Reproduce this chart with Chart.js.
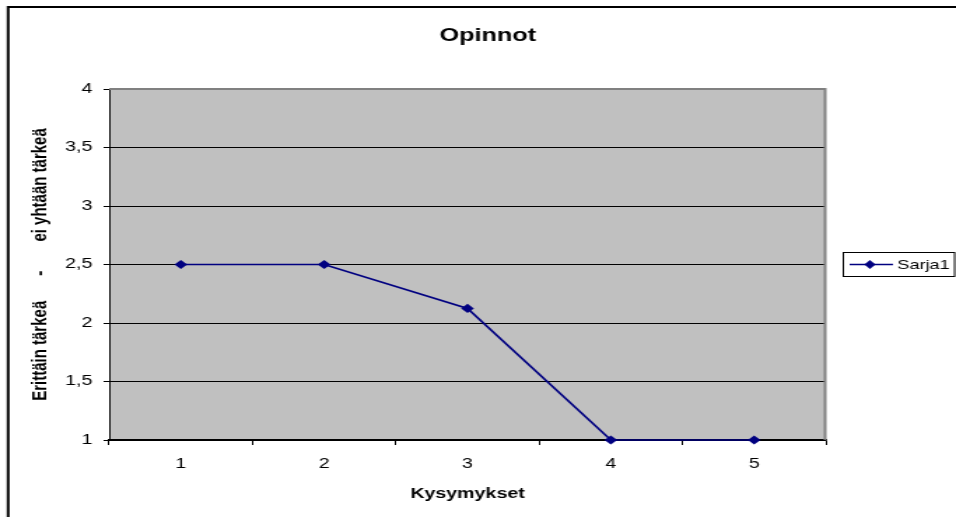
<!DOCTYPE html>
<html>
<head>
<meta charset="utf-8">
<script src="https://cdn.jsdelivr.net/npm/chart.js@4.4.1/dist/chart.umd.min.js"></script>
<style>
  html, body { margin: 0; padding: 0; background: #fff; overflow: hidden; }
  /* the reference is stretched sideways, so draw narrow and scale it out */
  #wrap { width: 683px; height: 517px; transform: scaleX(1.39971); transform-origin: 0 0; }
</style>
</head>
<body>
<div id="wrap"><canvas id="myChart" width="683" height="517"></canvas></div>
<script>
const kysymykset = ['1', '2', '3', '4', '5'];
const sarja1 = [2.5, 2.5, 2.125, 1, 1];
const yTicks = [1, 1.5, 2, 2.5, 3, 3.5, 4];

const fontFam = '"Liberation Sans", Arial, sans-serif';
const ctx = document.getElementById('myChart');

// frame, plot background, gray border, title and boxed legend
const excelLook = {
    id: 'excelLook',
    beforeDraw(chart) {
        const c = chart.ctx;
        const a = chart.chartArea;
        c.save();
        c.fillStyle = '#c0c0c0';
        c.fillRect(a.left, a.top, a.right - a.left, a.bottom - a.top);
        c.strokeStyle = '#000';
        c.lineWidth = 2;
        c.beginPath();
        c.moveTo(5.8, 530);
        c.lineTo(5.8, 7);
        c.lineTo(700, 7);
        c.stroke();
        c.restore();
    },
    beforeDatasetsDraw(chart) {
        const c = chart.ctx;
        const a = chart.chartArea;
        c.save();
        c.strokeStyle = '#808080';
        c.lineWidth = 2;
        c.beginPath();
        c.moveTo(a.left, a.top);
        c.lineTo(a.right - 0.5, a.top);
        c.lineTo(a.right - 0.5, a.bottom);
        c.stroke();
        c.restore();
    },
    afterDraw(chart) {
        const c = chart.ctx;
        const ds = chart.data.datasets[0];
        c.save();
        c.fillStyle = '#000';
        c.font = 'bold 18px ' + fontFam;
        c.textAlign = 'center';
        c.textBaseline = 'alphabetic';
        c.fillText('Opinnot', 348.6, 41);

        // legend box
        c.strokeStyle = '#000';
        c.lineWidth = 1;
        c.strokeRect(602.5, 252.5, 79.5, 24);
        c.strokeStyle = ds.borderColor;
        c.lineWidth = 1.5;
        c.beginPath();
        c.moveTo(607, 264.5);
        c.lineTo(638, 264.5);
        c.stroke();
        c.fillStyle = ds.borderColor;
        c.beginPath();
        c.moveTo(621.5, 260);
        c.lineTo(625.5, 264.5);
        c.lineTo(621.5, 269);
        c.lineTo(617.5, 264.5);
        c.closePath();
        c.fill();
        c.fillStyle = '#000';
        c.font = '13px ' + fontFam;
        c.textAlign = 'left';
        c.textBaseline = 'middle';
        c.fillText(ds.label, 641, 265);
        c.restore();
    }
};

const sp = (n) => '\u00A0'.repeat(n);

const myChart = new Chart(ctx, {
    type: 'line',
    data: {
        labels: kysymykset,
        datasets: [{
            label: 'Sarja1',
            data: sarja1,
            borderColor: '#000080',
            backgroundColor: '#000080',
            borderWidth: 1.7,
            pointStyle: 'rectRot',
            pointRadius: 4.6,
            pointBorderWidth: 0,
            tension: 0,
            clip: false
        }]
    },
    options: {
        responsive: false,
        animation: false,
        layout: {
            padding: { top: 89, right: 93, left: 0, bottom: 0 }
        },
        plugins: {
            legend: { display: false },
            title: { display: false },
            tooltip: { enabled: false }
        },
        scales: {
            x: {
                offset: true,
                afterFit: (scale) => { scale.height = 77; },
                grid: {
                    offset: true,
                    drawOnChartArea: false,
                    drawTicks: true,
                    tickLength: 5,
                    color: '#000'
                },
                border: { color: '#000', width: 1.5 },
                ticks: {
                    color: '#000',
                    padding: 11,
                    font: { family: fontFam, size: 14 }
                },
                title: {
                    display: true,
                    text: 'Kysymykset',
                    color: '#000',
                    font: { family: fontFam, size: 14, weight: 'bold' },
                    padding: { top: 0, bottom: 14 }
                }
            },
            y: {
                min: 1,
                max: 4,
                afterFit: (scale) => { scale.width = 78; },
                afterBuildTicks: (scale) => {
                    scale.ticks = yTicks.map(v => ({ value: v }));
                },
                grid: {
                    color: '#000',
                    lineWidth: 1,
                    drawTicks: true,
                    tickLength: 4
                },
                border: { color: '#000', width: 1 },
                ticks: {
                    color: '#000',
                    padding: 8,
                    font: { family: fontFam, size: 14 },
                    callback: (v) => String(v).replace('.', ',')
                },
                title: {
                    display: true,
                    text: 'Erittäin tärkeä' + sp(6) + '-' + sp(7) + 'ei yhtään tärkeä',
                    color: '#000',
                    font: { family: fontFam, size: 15, weight: 'bold' },
                    padding: { top: 20, bottom: 0 }
                }
            }
        }
    },
    plugins: [excelLook]
});
</script>
</body>
</html>
